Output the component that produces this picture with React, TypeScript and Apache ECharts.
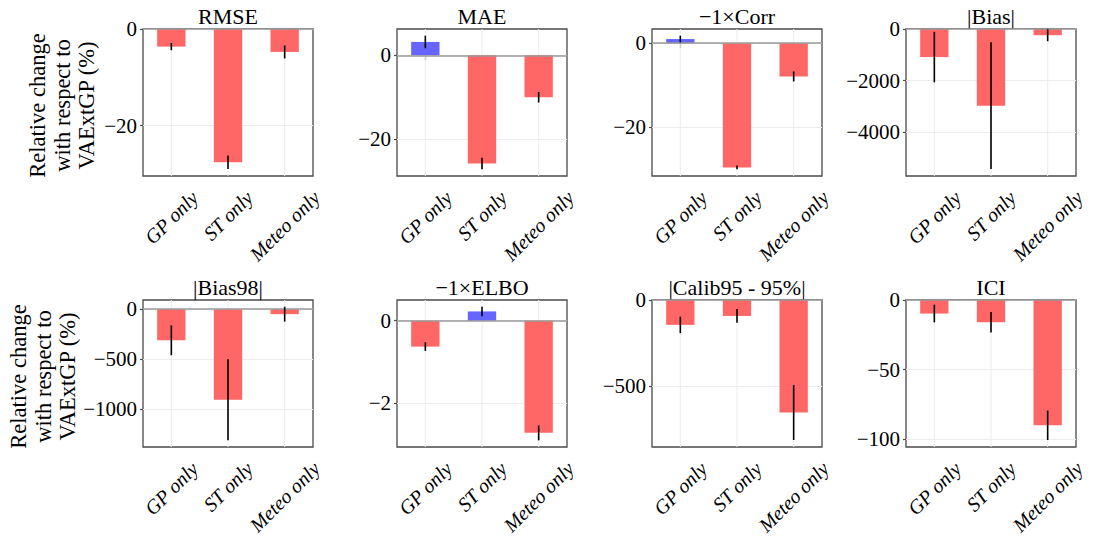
import React, { useEffect, useRef } from "react";
import * as echarts from "echarts";

// ---------- data ----------
const categories = ["GP only", "ST only", "Meteo only"];
const panelTitles = ["RMSE", "MAE", "−1×Corr", "|Bias|", "|Bias98|", "−1×ELBO", "|Calib95 - 95%|", "ICI"];

const rmseValues = [-3.65, -27.6, -4.75];
const rmseErrors = [0.75, 1.4, 1.35];
const maeValues = [3.2, -25.9, -10.05];
const maeErrors = [1.5, 1.4, 1.25];
const corrValues = [1.0, -29.55, -7.9];
const corrErrors = [0.8, 0.45, 1.2];
const biasValues = [-1090, -2975, -240];
const biasErrors = [980, 2460, 235];
const bias98Values = [-312, -909, -50];
const bias98Errors = [150, 407, 75];
const elboValues = [-0.625, 0.225, -2.71];
const elboErrors = [0.105, 0.115, 0.18];
const calibValues = [-145, -93, -656];
const calibErrors = [48, 40, 160];
const iciValues = [-9.75, -16.0, -90.1];
const iciErrors = [6.35, 7.35, 10.6];

const rmseTicks = [0, -20];
const maeTicks = [0, -20];
const corrTicks = [0, -20];
const biasTicks = [0, -2000, -4000];
const bias98Ticks = [0, -500, -1000];
const elboTicks = [0, -2];
const calibTicks = [0, -500];
const iciTicks = [0, -50, -100];

const allValues = [rmseValues, maeValues, corrValues, biasValues, bias98Values, elboValues, calibValues, iciValues];
const allErrors = [rmseErrors, maeErrors, corrErrors, biasErrors, bias98Errors, elboErrors, calibErrors, iciErrors];
const allTicks = [rmseTicks, maeTicks, corrTicks, biasTicks, bias98Ticks, elboTicks, calibTicks, iciTicks];

const yLabelText = "Relative change\nwith respect to\nVAExtGP (%)";

// ---------- layout / style ----------
const FONT = "'Liberation Serif', 'Times New Roman', serif";
const gridLefts = [143, 397, 652, 906];
const gridTops = [29, 300];
const yLabelX = [62, 43];
const gridW = 170;
const gridH = 147;
const RED = "#ff6666";
const BLUE = "#6666ff";
const SPINE = "#4a4a4a";
const LIGHT = "#ececec";
const XFS = 20;

const fmt = (v: number) => (v < 0 ? "\u2212" + Math.abs(v) : String(v));

function axisRange(vals: number[], errs: number[]) {
  let lo = 0;
  let hi = 0;
  vals.forEach((v, i) => {
    lo = Math.min(lo, v - errs[i]);
    hi = Math.max(hi, v + errs[i]);
  });
  const range = hi - lo;
  return {
    min: lo < 0 ? lo - 0.05 * range : 0,
    max: hi > 0 ? hi + 0.05 * range : 0,
  };
}

export default function App() {
  const ref = useRef<HTMLDivElement>(null);

  useEffect(() => {
    if (!ref.current) return;
    const chart = echarts.init(ref.current, null, { renderer: "svg" });

    const grids: any[] = [];
    const xAxes: any[] = [];
    const yAxes: any[] = [];
    const series: any[] = [];
    const ranges = allValues.map((v, i) => axisRange(v, allErrors[i]));

    allValues.forEach((vals, i) => {
      const col = i % 4;
      const row = Math.floor(i / 4);
      grids.push({
        left: gridLefts[col],
        top: gridTops[row],
        width: gridW,
        height: gridH,
        show: true,
        borderColor: SPINE,
        borderWidth: 1.3,
        backgroundColor: "transparent",
        containLabel: false,
      });
      xAxes.push({
        type: "category",
        gridIndex: i,
        data: categories,
        boundaryGap: true,
        axisLine: { show: false },
        axisTick: { show: true, alignWithLabel: true, length: 5, lineStyle: { color: SPINE, width: 1.2 } },
        axisLabel: { show: false },
        splitLine: { show: false },
      });
      yAxes.push({
        type: "value",
        gridIndex: i,
        min: ranges[i].min,
        max: ranges[i].max,
        axisLine: { show: false },
        axisTick: { show: true, length: 3, customValues: allTicks[i], lineStyle: { color: SPINE, width: 1.2 } },
        axisLabel: {
          show: true,
          customValues: allTicks[i],
          formatter: (v: number) => fmt(v),
          fontFamily: FONT,
          fontSize: 21,
          color: "#000",
          margin: 6,
        },
        splitLine: { show: true, lineStyle: { color: LIGHT, width: 1 } },
      });
      // vertical grid lines at category centres
      series.push({
        type: "custom",
        xAxisIndex: i,
        yAxisIndex: i,
        z: 1,
        silent: true,
        data: categories.map((_, k) => [k]),
        encode: { x: 0 },
        renderItem: (params: any, api: any) => {
          const p = api.coord([api.value(0), 0]);
          const cs = params.coordSys;
          return {
            type: "line",
            shape: { x1: p[0], y1: cs.y, x2: p[0], y2: cs.y + cs.height },
            style: { stroke: LIGHT, lineWidth: 1 },
          };
        },
      });
      series.push({
        type: "bar",
        xAxisIndex: i,
        yAxisIndex: i,
        z: 2,
        barWidth: "50%",
        data: vals.map((v) => ({ value: v, itemStyle: { color: v >= 0 ? BLUE : RED } })),
        markLine: {
          silent: true,
          symbol: "none",
          label: { show: false },
          lineStyle: { color: "#9a9a9a", width: 1.5, type: "solid" },
          data: [{ yAxis: 0 }],
        },
      });
      series.push({
        type: "custom",
        xAxisIndex: i,
        yAxisIndex: i,
        z: 5,
        silent: true,
        data: vals.map((v, k) => [k, v - allErrors[i][k], v + allErrors[i][k]]),
        encode: { x: 0, y: [1, 2] },
        renderItem: (params: any, api: any) => {
          const a = api.coord([api.value(0), api.value(1)]);
          const b = api.coord([api.value(0), api.value(2)]);
          return {
            type: "line",
            shape: { x1: a[0], y1: a[1], x2: b[0], y2: b[1] },
            style: { stroke: "#000", lineWidth: 1.6 },
          };
        },
      });
    });

    chart.setOption({
      animation: false,
      backgroundColor: "#fff",
      grid: grids,
      xAxis: xAxes,
      yAxis: yAxes,
      series,
    });

    // texts: titles, y labels, rotated category labels
    const graphics: any[] = [];
    panelTitles.forEach((t, i) => {
      const col = i % 4;
      const row = Math.floor(i / 4);
      graphics.push({
        type: "text",
        x: gridLefts[col] + gridW / 2,
        y: gridTops[row] - 12.5,
        style: { text: t, fontFamily: FONT, fontSize: 22, fill: "#000", align: "center", verticalAlign: "middle" },
      });
    });
    gridTops.forEach((top, r) => {
      graphics.push({
        type: "text",
        x: yLabelX[r],
        y: top + gridH / 2 + 3,
        rotation: Math.PI / 2,
        style: {
          text: yLabelText,
          fontFamily: FONT,
          fontSize: 22.5,
          lineHeight: 24.5,
          fill: "#000",
          align: "center",
          verticalAlign: "middle",
        },
      });
    });
    const ctx = document.createElement("canvas").getContext("2d");
    if (ctx) ctx.font = `italic ${XFS}px ${FONT}`;
    allValues.forEach((_, i) => {
      const yb = chart.convertToPixel({ yAxisIndex: i }, ranges[i].min) as number;
      categories.forEach((c) => {
        const x = chart.convertToPixel({ xAxisIndex: i }, c) as number;
        const w = ctx ? ctx.measureText(c).width : c.length * 8;
        const h = XFS * 1.0;
        const half = ((w + h) * Math.SQRT1_2) / 2;
        graphics.push({
          type: "text",
          x,
          y: yb + 11 + half,
          rotation: Math.PI / 4,
          style: {
            text: c,
            fontFamily: FONT,
            fontStyle: "italic",
            fontSize: XFS,
            fill: "#000",
            align: "center",
            verticalAlign: "middle",
          },
        });
      });
    });
    chart.setOption({ graphic: graphics });

    return () => chart.dispose();
  }, []);

  return (
    <div
      ref={ref}
      style={{ position: "fixed", left: 0, top: 0, width: 1094, height: 536, background: "#fff" }}
    />
  );
}
